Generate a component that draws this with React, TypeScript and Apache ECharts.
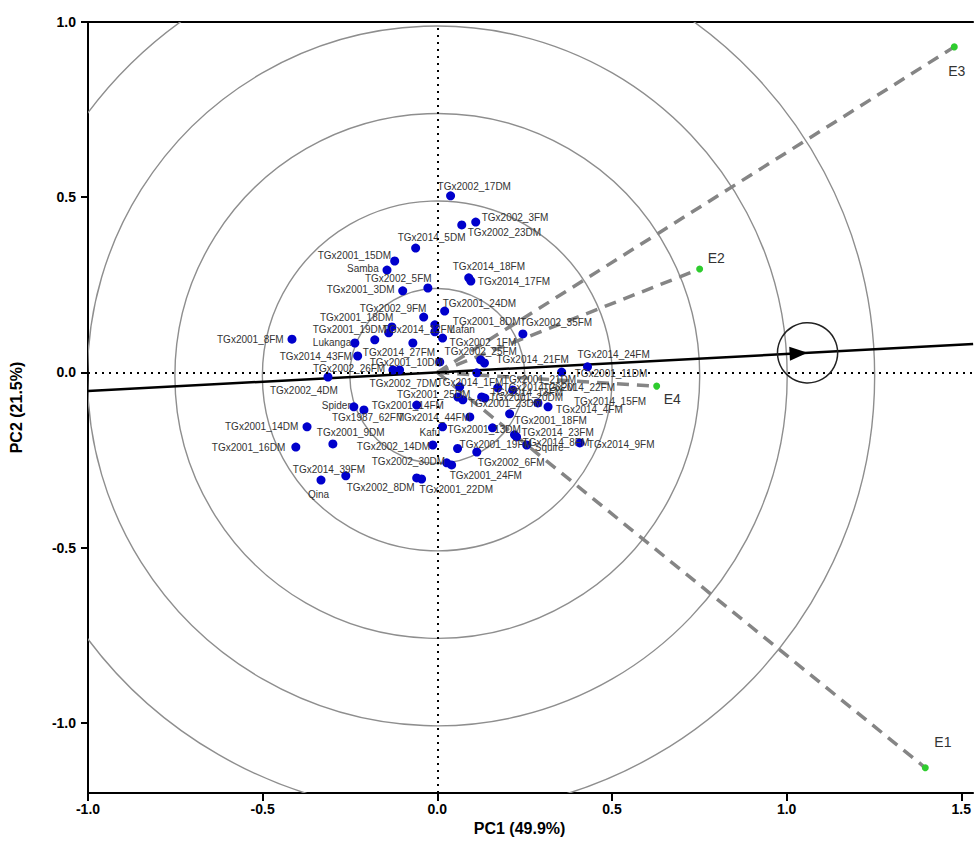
import React, { useEffect, useRef } from "react";
import * as echarts from "echarts";

// ---------------- data ----------------
const genotypes = [
  "TGx2002_17DM", "TGx2002_3FM", "TGx2002_23DM", "TGx2014_5DM", "TGx2001_15DM", "Samba", "TGx2014_18FM", "TGx2014_17FM", "TGx2002_5FM", "TGx2001_3DM",
  "TGx2001_24DM", "TGx2002_9FM", "TGx2001_8DM", "Lafan", "TGx2002_1FM", "TGx2002_25FM", "TGx2014_21FM", "TGx2001_8FM", "TGx2001_18DM", "TGx2001_19DM",
  "TGx2014_12FM", "Lukanga", "TGx2014_43FM", "TGx2014_27FM", "TGx2002_4DM", "TGx2002_26FM", "TGx2002_7DM", "TGx2001_10DM", "TGx2001_21DM", "TGx2014_1FM",
  "TGx2014_26FM", "TGx2014_22FM", "TGx2001_25DM", "TGx2001_20DM", "TGx2001_14FM", "TGx2001_23DM", "TGx2014_13FM", "TGx2014_44FM", "Kafu", "TGx2001_13DM",
  "TGx2014_23FM", "TGx2014_8FM", "TGx2002_14DM", "TGx2001_19FM", "TGx2002_6FM", "TGx2002_30DM", "TGx2001_24FM", "Squire", "TGx2001_18FM", "TGx2014_15FM",
  "TGx2014_4FM", "TGx2014_9FM", "TGx2001_22DM", "Spider", "TGx1987_62FM", "TGx2001_14DM", "TGx2001_16DM", "TGx2001_9DM", "TGx2014_39FM", "Qina",
  "TGx2002_8DM", "TGx2001_11DM", "TGx2014_24FM", "TGx2002_35FM",
];
const genoPC1 = [
  0.038, 0.110, 0.070, -0.062, -0.122, -0.144, 0.090, 0.096, -0.027, -0.099,
  0.021, -0.039, -0.007, -0.007, 0.015, 0.124, 0.135, -0.416, -0.130, -0.139,
  -0.179, -0.236, -0.228, -0.070, -0.313, -0.127, -0.108, 0.007, 0.113, 0.064,
  0.173, 0.216, 0.059, 0.127, -0.059, 0.073, 0.136, 0.093, 0.015, 0.158,
  0.221, 0.227, -0.013, 0.058, 0.113, 0.027, 0.041, 0.256, 0.207, 0.288,
  0.317, 0.408, -0.045, -0.239, -0.210, -0.373, -0.405, -0.299, -0.262, -0.333,
  -0.059, 0.356, 0.430, 0.245,
];
const genoPC2 = [
  0.504, 0.429, 0.421, 0.355, 0.318, 0.292, 0.270, 0.261, 0.241, 0.233,
  0.175, 0.158, 0.136, 0.116, 0.098, 0.036, 0.027, 0.095, 0.130, 0.113,
  0.093, 0.084, 0.047, 0.084, -0.013, 0.007, 0.007, 0.030, -0.001, -0.041,
  -0.044, -0.050, -0.070, -0.070, -0.093, -0.078, -0.073, -0.127, -0.155, -0.158,
  -0.178, -0.184, -0.207, -0.217, -0.227, -0.258, -0.264, -0.207, -0.118, -0.087,
  -0.098, -0.201, -0.304, -0.098, -0.107, -0.155, -0.213, -0.204, -0.295, -0.307,
  -0.301, 0.001, 0.016, 0.110,
];

const envNames = ["E1", "E2", "E3", "E4"];
const envPC1 = [1.397, 0.751, 1.48, 0.628];
const envPC2 = [-1.128, 0.295, 0.929, -0.039];

const xTicks = [-1.0, -0.5, 0.0, 0.5, 1.0, 1.5];
const yTicks = [-1.0, -0.5, 0.0, 0.5, 1.0];
const circleRadii = [0.25, 0.5, 0.75, 1.0, 1.25];
const circleCentre = [0.0, -0.01];
const idealPoint = [1.06, 0.056];
const idealRadius = 0.086;

const X_MIN = -1.0;
const X_MAX = 1.534;
const Y_MIN = -1.2;
const Y_MAX = 1.0;

// ---------------- label layout (pixel offsets of the label's left-middle from the dot) ----------------
const genoLabelOffset: Record<string, [number, number]> = {
  TGx2002_17DM: [-13, -9], TGx2002_3FM: [6, -5], TGx2002_23DM: [6, 8], TGx2014_5DM: [-18, -11],
  TGx2001_15DM: [-77, -6], Samba: [-40, -2], TGx2014_18FM: [-16, -11], TGx2014_17FM: [7, 1],
  TGx2002_5FM: [-63, -9], TGx2001_3DM: [-76, -1], TGx2001_24DM: [-2, -8], TGx2002_9FM: [-64, -9],
  TGx2001_8DM: [18, -3], Lafan: [15, -2], TGx2002_1FM: [7, 4], TGx2002_25FM: [-36, -8],
  TGx2014_21FM: [12, -3], TGx2001_8FM: [-75, 0], TGx2001_18DM: [-72, -9], TGx2001_19DM: [-76, -3],
  TGx2014_12FM: [8, -10], Lukanga: [-42, -1], TGx2014_43FM: [-78, 1], TGx2014_27FM: [-50, 9],
  TGx2002_4DM: [-58, 13], TGx2002_26FM: [-80, -2], TGx2002_7DM: [-30, 13], TGx2001_10DM: [-70, 1],
  TGx2001_21DM: [26, 7], TGx2014_1FM: [-23, -4], TGx2014_26FM: [5, 0], TGx2014_22FM: [30, -2],
  TGx2001_25DM: [-61, -2], TGx2001_20DM: [8, 1], TGx2001_14FM: [-45, 0], TGx2001_23DM: [6, 4],
  TGx2014_13FM: [6, -6], TGx2014_44FM: [-72, 1], Kafu: [-23, 6], TGx2001_13DM: [-45, 2],
  TGx2014_23FM: [7, -2], TGx2014_8FM: [6, 6], TGx2002_14DM: [-76, 2], TGx2001_19FM: [2, -4],
  TGx2002_6FM: [1, 10], TGx2002_30DM: [-75, -1], TGx2001_24FM: [-2, 11], Squire: [8, 3],
  TGx2001_18FM: [5, 7], TGx2014_15FM: [36, -1], TGx2014_4FM: [8, 3], TGx2014_9FM: [8, 2],
  TGx2001_22DM: [-2, 11], Spider: [-32, -1], TGx1987_62FM: [-32, 8], TGx2001_14DM: [-82, 0],
  TGx2001_16DM: [-84, 0], TGx2001_9DM: [-16, -11], TGx2014_39FM: [-53, -6], Qina: [-13, 14],
  TGx2002_8DM: [-70, 10], TGx2001_11DM: [13, 1], TGx2014_24FM: [-10, -12], TGx2002_35FM: [-3, -11],
};
const envLabelOffset: Record<string, [number, number]> = {
  E1: [9, -26], E2: [8, -11], E3: [-6, 24], E4: [7, 13],
};

const GENO_SIZE = 9;
const ENV_SIZE = 7;

export default function App() {
  const ref = useRef<HTMLDivElement>(null);

  useEffect(() => {
    if (!ref.current) return;
    const chart = echarts.init(ref.current, undefined, { renderer: "svg" });

    const clipRect = (cs: any) => ({
      type: "rect",
      shape: { x: cs.x, y: cs.y, width: cs.width, height: cs.height },
    });

    const slope = idealPoint[1] / idealPoint[0];

    const plainLabel = {
      align: "left",
      verticalAlign: "middle",
      textBorderWidth: 0,
      textBorderColor: "transparent",
      textShadowBlur: 0,
      fontFamily: "Arial, 'Liberation Sans', sans-serif",
    };

    const genoData = genotypes.map((name, i) => {
      const off = genoLabelOffset[name] || [6, 0];
      return {
        name,
        value: [genoPC1[i], genoPC2[i]],
        label: {
          show: true,
          formatter: name,
          position: [GENO_SIZE / 2 + off[0], GENO_SIZE / 2 + off[1]],
          fontSize: 10,
          color: "#333333",
          ...plainLabel,
        },
      };
    });

    const envData = envNames.map((name, i) => {
      const off = envLabelOffset[name];
      return {
        name,
        value: [envPC1[i], envPC2[i]],
        label: {
          show: true,
          formatter: name,
          position: [ENV_SIZE / 2 + off[0], ENV_SIZE / 2 + off[1]],
          fontSize: 14,
          color: "#333333",
          ...plainLabel,
        },
      };
    });

    const envLines = envNames.map((name, i) => ({
      type: "line",
      name: "vec_" + name,
      data: [
        [0, 0],
        [envPC1[i], envPC2[i]],
      ],
      symbol: "none",
      silent: true,
      z: 2,
      lineStyle: { color: "#858585", width: 3.5, type: [12, 8] },
    }));

    const axisFont = {
      fontFamily: "Arial, 'Liberation Sans', sans-serif",
      fontWeight: "bold",
      color: "#000",
    };

    const option: any = {
      animation: false,
      backgroundColor: "#fff",
      grid: { left: 88, top: 22, right: 0, bottom: 70, containLabel: false },
      xAxis: [
        {
          type: "value",
          min: X_MIN,
          max: X_MAX,
          position: "bottom",
          axisLine: { show: true, onZero: false, lineStyle: { color: "#000", width: 2 } },
          axisTick: { show: true, length: 8, lineStyle: { color: "#000", width: 2 }, customValues: xTicks },
          axisLabel: {
            customValues: xTicks,
            formatter: (v: number) => v.toFixed(1),
            fontSize: 14,
            margin: 9,
            ...axisFont,
          },
          splitLine: { show: false },
          name: "PC1 (49.9%)",
          nameLocation: "middle",
          nameGap: 26,
          nameTextStyle: { fontSize: 16, padding: [0, 22, 0, 0], ...axisFont },
        },
        {
          type: "value",
          min: X_MIN,
          max: X_MAX,
          position: "top",
          axisLine: { show: true, onZero: false, lineStyle: { color: "#000", width: 2 } },
          axisTick: { show: false },
          axisLabel: { show: false },
          splitLine: { show: false },
        },
      ],
      yAxis: {
        type: "value",
        min: Y_MIN,
        max: Y_MAX,
        axisLine: { show: true, onZero: false, lineStyle: { color: "#000", width: 2 } },
        axisTick: { show: true, length: 7, lineStyle: { color: "#000", width: 2 }, customValues: yTicks },
        axisLabel: {
          customValues: yTicks,
          formatter: (v: number) => v.toFixed(1),
          fontSize: 14,
          margin: 12,
          ...axisFont,
        },
        splitLine: { show: false },
        name: "PC2 (21.5%)",
        nameLocation: "middle",
        nameGap: 64,
        nameRotate: 90,
        nameTextStyle: { fontSize: 16, ...axisFont },
      },
      series: [
        {
          type: "custom",
          name: "circles",
          silent: true,
          z: 1,
          data: circleRadii.map((r) => [r, 0]),
          renderItem: (params: any, api: any) => {
            const r = api.value(0);
            const c = api.coord(circleCentre);
            const s = api.size([r, r]);
            return {
              type: "circle",
              shape: { cx: c[0], cy: c[1], r: (s[0] + s[1]) / 2 },
              style: { fill: "none", stroke: "#8e8e8e", lineWidth: 1.4 },
              clipPath: clipRect(params.coordSys),
            };
          },
        },
        ...envLines,
        {
          type: "line",
          name: "AEC",
          data: [
            [X_MIN, X_MIN * slope],
            [X_MAX, X_MAX * slope],
          ],
          symbol: "none",
          silent: true,
          z: 3,
          lineStyle: { color: "#000", width: 2.5 },
          markLine: {
            silent: true,
            symbol: "none",
            label: { show: false },
            lineStyle: { color: "#000", width: 2, type: [2, 5] },
            data: [{ xAxis: 0 }, { yAxis: 0 }],
          },
        },
        {
          type: "scatter",
          name: "Genotypes",
          symbol: "circle",
          symbolSize: GENO_SIZE,
          z: 4,
          itemStyle: { color: "#0000cc", opacity: 1 },
          data: genoData,
        },
        {
          type: "scatter",
          name: "Environments",
          symbol: "circle",
          symbolSize: ENV_SIZE,
          z: 5,
          itemStyle: { color: "#2ecc2e", opacity: 1 },
          data: envData,
        },
        {
          type: "custom",
          name: "ideal",
          silent: true,
          z: 6,
          data: [idealPoint],
          renderItem: (params: any, api: any) => {
            const tip = api.coord([api.value(0), api.value(1)]);
            const o = api.coord([0, 0]);
            const ang = Math.atan2(tip[1] - o[1], tip[0] - o[0]);
            const L = 18;
            const W = 7;
            const bx = tip[0] - L * Math.cos(ang);
            const by = tip[1] - L * Math.sin(ang);
            const px = -Math.sin(ang) * W;
            const py = Math.cos(ang) * W;
            const rr = api.size([idealRadius, idealRadius]);
            return {
              type: "group",
              children: [
                {
                  type: "polygon",
                  shape: { points: [[tip[0], tip[1]], [bx + px, by + py], [bx - px, by - py]] },
                  style: { fill: "#000" },
                },
                {
                  type: "circle",
                  shape: { cx: tip[0], cy: tip[1], r: (rr[0] + rr[1]) / 2 },
                  style: { fill: "none", stroke: "#222", lineWidth: 1.5 },
                },
              ],
            };
          },
        },
      ],
    };

    chart.setOption(option);
    return () => chart.dispose();
  }, []);

  return (
    <div
      ref={ref}
      style={{ position: "absolute", left: 0, top: 0, width: 974, height: 863, background: "#fff" }}
    />
  );
}
